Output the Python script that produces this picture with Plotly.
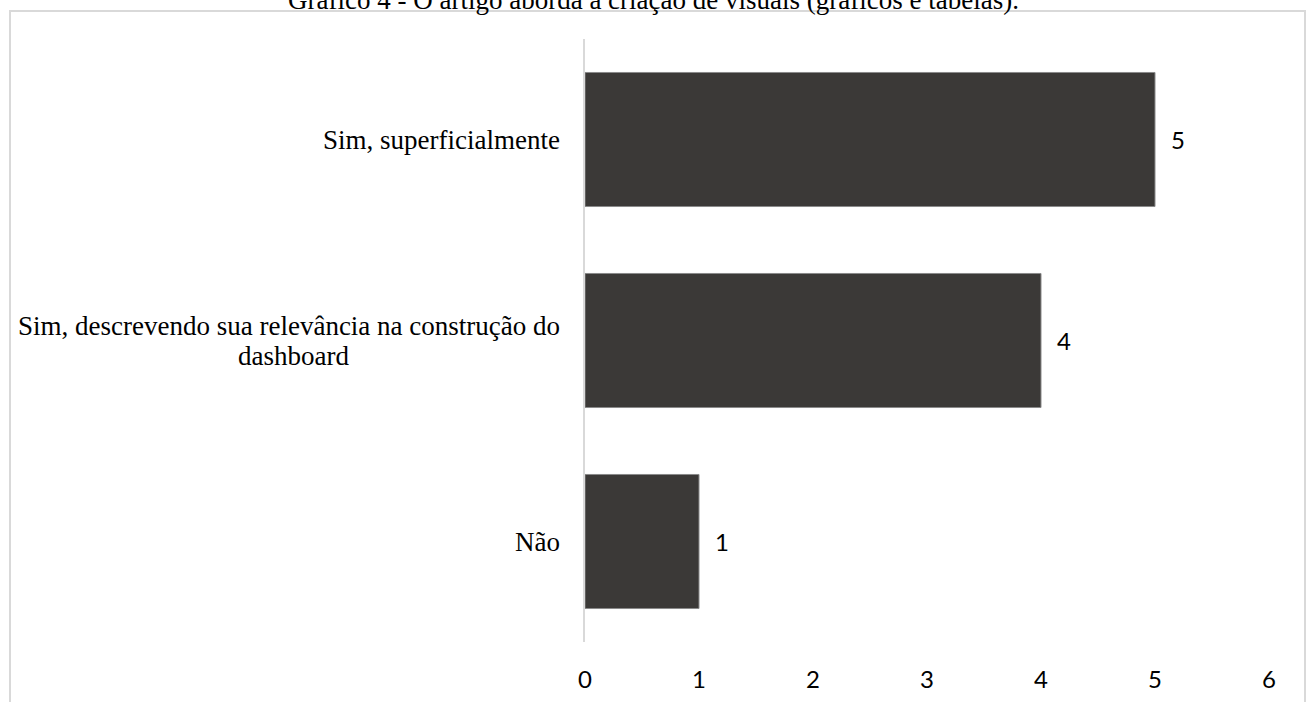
import plotly.graph_objects as go

# Survey answers (bottom to top) and their counts
categories = [
    "Não",
    "Sim, descrevendo sua relevância na construção do<br>dashboard",
    "Sim, superficialmente",
]
counts = [1, 4, 5]
x_ticks = [0, 1, 2, 3, 4, 5, 6]

title_text = "Gráfico 4 - O artigo aborda a criação de visuais (gráficos e tabelas)."

W, H = 1306, 702
ML, MR, MT, MB = 585, 37, 39, 60
PW, PH = W - ML - MR, H - MT - MB


def px_x(p):
    return (p - ML) / PW


def px_y(p):
    return (H - MB - p) / PH


serif = "Liberation Serif, Times New Roman, serif"
sans = "Lato, Carlito, Calibri, sans-serif"
LABEL_SIZE = 27
LINE_GAP = 30          # baseline-to-baseline distance of wrapped labels
LABEL_RIGHT = 562      # right edge of the category labels (px)

fig = go.Figure(
    go.Bar(
        x=counts,
        y=categories,
        orientation="h",
        marker=dict(color="#3b3937", line=dict(color="#8a8a8a", width=1)),
        hoverinfo="skip",
    )
)

annotations = []
# category labels: right-aligned against the axis, wrapped lines centred
for cat in categories:
    lines = cat.split("<br>")
    if len(lines) == 1:
        annotations.append(dict(
            x=px_x(LABEL_RIGHT), xref="paper", y=cat, yref="y",
            text=cat, showarrow=False, xanchor="right", yanchor="middle",
            font=dict(family=serif, size=LABEL_SIZE, color="#000000"),
        ))
    else:
        first_w = 538  # rendered width of the first line
        centre = LABEL_RIGHT - first_w / 2
        n = len(lines)
        for i, ln in enumerate(lines):
            shift = ((n - 1) / 2 - i) * LINE_GAP
            annotations.append(dict(
                x=px_x(LABEL_RIGHT if i == 0 else centre), xref="paper",
                y=cat, yref="y", yshift=shift,
                text=ln, showarrow=False,
                xanchor="right" if i == 0 else "center", yanchor="middle",
                font=dict(family=serif, size=LABEL_SIZE, color="#000000"),
            ))
# value labels next to each bar
for cat, v in zip(categories, counts):
    annotations.append(dict(
        x=v, xref="x", y=cat, yref="y",
        text=str(v), showarrow=False, xanchor="left", yanchor="middle",
        xshift=14,
        font=dict(family=sans, size=24, color="#000000"),
    ))
# chart title (partly above the page edge)
annotations.append(dict(
    x=px_x(653), xref="paper", y=px_y(0), yref="paper",
    text=title_text, showarrow=False, xanchor="center", yanchor="middle",
    font=dict(family=serif, size=LABEL_SIZE, color="#000000"),
))

shapes = [
    # frame around the chart
    dict(type="rect", xref="paper", yref="paper",
         x0=px_x(10), x1=px_x(1305), y0=px_y(720), y1=px_y(11),
         line=dict(color="#d9d9d9", width=2), fillcolor="rgba(0,0,0,0)",
         layer="below"),
]

fig.update_layout(
    width=W, height=H,
    margin=dict(l=ML, r=MR, t=MT, b=MB, autoexpand=False),
    paper_bgcolor="white", plot_bgcolor="white",
    showlegend=False,
    bargap=0.333,
    annotations=annotations,
    shapes=shapes,
    xaxis=dict(
        range=[0, 6], tickvals=x_ticks, ticktext=[str(t) for t in x_ticks],
        showgrid=False, zeroline=False, showline=False,
        ticks="outside", ticklen=16, tickcolor="rgba(0,0,0,0)",
        tickfont=dict(family=sans, size=24, color="#000000"),
        automargin=False, fixedrange=True,
    ),
    yaxis=dict(
        showticklabels=False, showgrid=False, zeroline=False,
        showline=True, linecolor="#d9d9d9", linewidth=2,
        ticks="", automargin=False, fixedrange=True,
    ),
)

fig.write_html("out.html", config={"displayModeBar": False})
